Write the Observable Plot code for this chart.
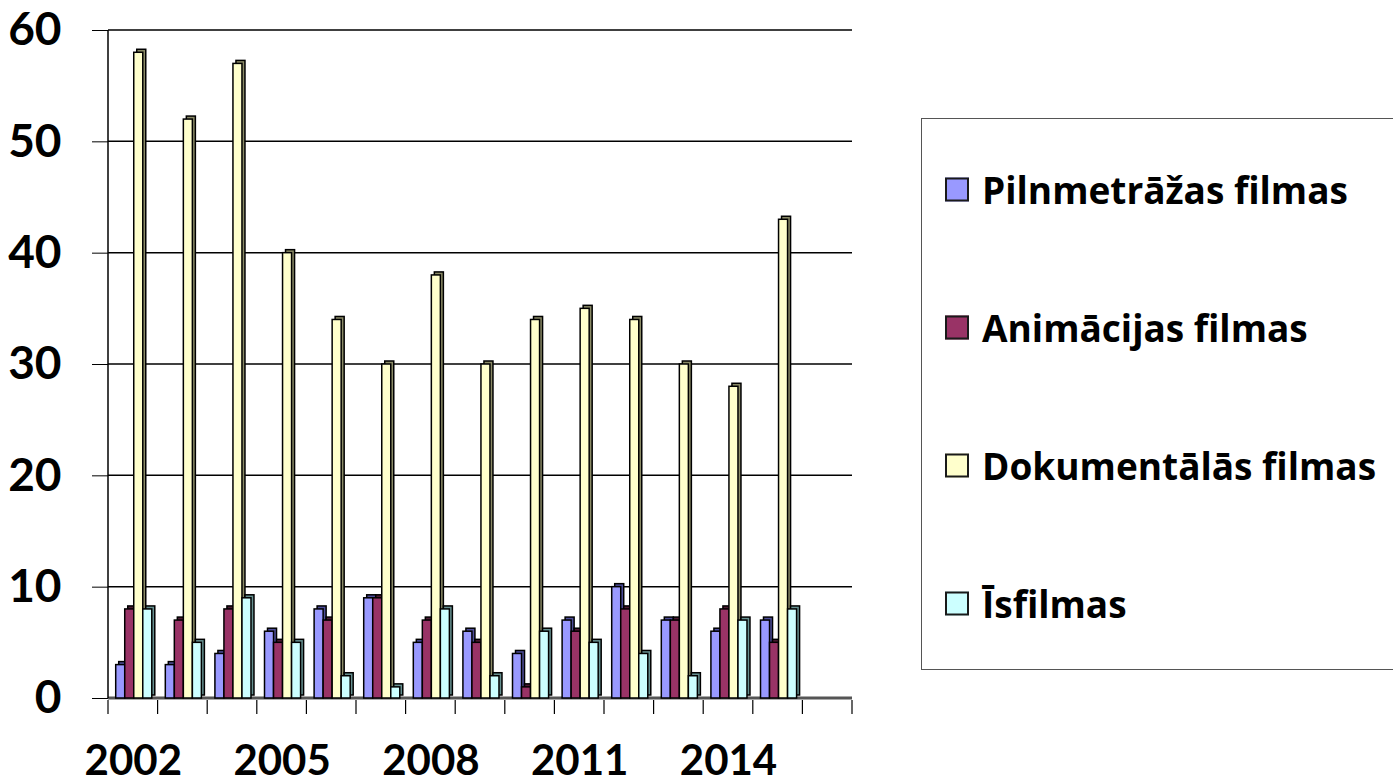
<!DOCTYPE html>
<html><head><meta charset="utf-8">
<script src="https://cdn.jsdelivr.net/npm/d3@7"></script>
<script src="https://cdn.jsdelivr.net/npm/@observablehq/plot@0.6"></script>
<style>
body{margin:0;background:#fff;font-family:Lato, "Open Sans", sans-serif;}
#chart{position:absolute;left:0;top:0;}
#chart svg text{font-weight:bold;}
#legend{position:absolute;left:921px;top:118px;width:480px;height:552px;border:1px solid #555;box-sizing:border-box;}
.item{position:absolute;left:23px;display:flex;align-items:center;font-family:"Open Sans",Lato,sans-serif;font-weight:bold;font-size:37px;white-space:nowrap;transform:translateY(-50%);color:#000;}
.sw{width:20px;height:20px;border:2.5px solid #1a1a1a;margin-right:13px;flex:none;}
</style></head>
<body><div id="chart"></div><div id="legend"></div>
<script>
const years = [2002, 2003, 2004, 2005, 2006, 2007, 2008, 2009, 2010, 2011, 2012, 2013, 2014, 2015, 2016];
const labelYears = [2002, 2005, 2008, 2011, 2014];
const series = ["Pilnmetrāžas filmas", "Animācijas filmas", "Dokumentālās filmas", "Īsfilmas"];
const pilnmetrazas = [3, 3, 4, 6, 8, 9, 5, 6, 4, 7, 10, 7, 6, 7, null];
const animacijas   = [8, 7, 8, 5, 7, 9, 7, 5, 1, 6, 8, 7, 8, 5, null];
const dokumentalas = [58, 52, 57, 40, 34, 30, 38, 30, 34, 35, 34, 30, 28, 43, null];
const isfilmas     = [8, 5, 9, 5, 2, 1, 8, 2, 6, 5, 4, 2, 7, 8, null];
const yTicks = [0, 10, 20, 30, 40, 50, 60];
const fillColors = ["#9999ff", "#993366", "#ffffcc", "#ccffff"];
const sideColors = ["#4d4d99", "#4d1a33", "#8a8a66", "#669090"];

const values = [pilnmetrazas, animacijas, dokumentalas, isfilmas];
const data = years.flatMap((yr, i) => series.map((s, j) => ({year: yr, series: s, k: j, value: values[j][i]})))
  .filter(d => d.value != null);

const plot = Plot.plot({
  width: 900,
  height: 783,
  marginLeft: 108,
  marginRight: 48,
  marginTop: 30,
  marginBottom: 85,
  style: {fontFamily: "Lato, 'Open Sans', sans-serif", color: "#000", background: "transparent"},
  fx: {domain: years, padding: 0, round: false, label: null},
  x: {domain: series, paddingInner: 0, paddingOuter: 0.75, align: 0.57, round: false, axis: null},
  y: {domain: [0, 60], label: null},
  color: {domain: series, range: fillColors},
  marks: [
    Plot.barY(data, {fx: "year", x: "series", y: "value", fill: d => sideColors[d.k], stroke: "#000", strokeWidth: 1.5, dx: 3, dy: -3}),
    Plot.barY(data, {fx: "year", x: "series", y: "value", fill: "series", stroke: "#000", strokeWidth: 1.5}),
    Plot.axisY({ticks: yTicks, tickSize: 16, tickPadding: 31, fontSize: 46, fontWeight: "bold", label: null, tickFormat: d => String(d)}),
    Plot.axisFx({anchor: "bottom", ticks: labelYears, tickSize: 0, tickPadding: 47, fontSize: 42, fontWeight: "bold", label: null, tickFormat: d => String(d)})
  ]
});
document.getElementById("chart").appendChild(plot);

// gridlines, floor, axis line and slot separators, placed with the plot's own scales
const fx = plot.scale("fx"), ys = plot.scale("y");
const svg = d3.select(plot);
const y0 = ys.apply(0), yTop = ys.apply(60);
const xL = fx.apply(years[0]);
const xR = fx.apply(years[years.length - 1]) + fx.bandwidth;
const grid = svg.insert("g", "g");
grid.selectAll("line.g").data(yTicks.filter(t => t > 0)).join("line")
  .attr("x1", xL).attr("x2", xR).attr("y1", d => ys.apply(d)).attr("y2", d => ys.apply(d))
  .attr("stroke", "#000").attr("stroke-width", 1.5);
grid.append("line").attr("x1", xL).attr("x2", xR).attr("y1", y0).attr("y2", y0)
  .attr("stroke", "#555").attr("stroke-width", 3);
svg.append("line").attr("x1", xL).attr("x2", xL).attr("y1", yTop).attr("y2", y0).attr("stroke", "#000").attr("stroke-width", 1.5);
const bounds = years.map(y => fx.apply(y)).concat([xR]);
svg.append("g").selectAll("line").data(bounds).join("line")
  .attr("x1", d => d).attr("x2", d => d).attr("y1", y0 + 2).attr("y2", y0 + 16)
  .attr("stroke", "#000").attr("stroke-width", 1.2);

// legend
const legend = d3.select("#legend");
const rowCenters = [70, 208, 346, 484];
series.forEach((s, i) => {
  const it = legend.append("div").attr("class", "item").style("top", rowCenters[i] + "px");
  it.append("div").attr("class", "sw").style("background", fillColors[i]);
  it.append("span").text(s);
});
</script></body></html>
